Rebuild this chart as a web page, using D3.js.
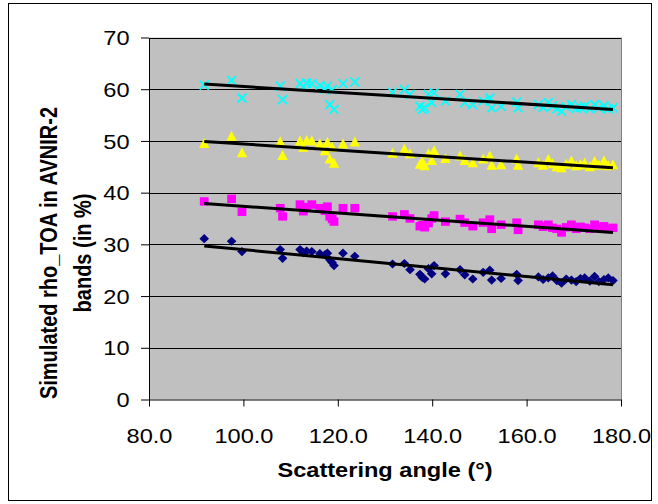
<!DOCTYPE html>
<html><head><meta charset="utf-8">
<script src="https://cdn.jsdelivr.net/npm/d3@7"></script>
<style>html,body{margin:0;padding:0;background:#fff;}svg{display:block;}</style>
</head><body>
<script>
// ---- data ----
const angles = [91.7, 97.5, 99.7, 107.8, 108.3,
  112.0, 112.7, 113.4, 114.5, 116.2, 117.3, 117.8, 118.3, 118.8, 119.2, 121.1, 123.6,
  131.6, 134.1, 135.3, 137.4, 137.9, 138.4, 139.2, 139.9, 140.4, 142.8, 145.9, 146.9, 148.6, 150.8, 152.2, 152.6, 154.6, 157.9, 158.2,
  162.5, 163.5, 164.6, 165.5, 166.4, 167.4, 168.4, 169.5, 170.5, 171.4, 172.3, 173.4, 174.4, 175.3, 176.4, 177.3, 178.3];
const bandNavy = [31.1, 30.6, 28.6, 29.0, 27.3,
  29.0, 28.4, 28.7, 28.6, 28.2, 28.0, 28.3, 27.0, 26.5, 25.9, 28.3, 27.7,
  26.2, 26.3, 25.1, 24.2, 23.6, 23.3, 25.3, 24.3, 25.9, 24.3, 25.1, 24.1, 23.3, 24.6, 25.0, 23.1, 23.4, 24.2, 23.0,
  23.7, 23.2, 23.5, 23.9, 23.0, 22.5, 23.3, 23.1, 22.8, 23.4, 23.5, 22.9, 23.8, 22.8, 23.2, 23.5, 23.0];
const bandMagenta = [38.3, 38.8, 36.3, 37.0, 35.4,
  37.7, 36.4, 37.2, 37.7, 37.0, 36.5, 37.3, 35.4, 34.9, 34.4, 37.0, 37.0,
  35.4, 35.8, 35.0, 33.5, 33.7, 33.3, 34.1, 35.0, 35.6, 34.4, 34.9, 34.2, 33.5, 34.2, 34.8, 33.0, 33.8, 34.2, 32.8,
  33.8, 33.4, 33.8, 33.2, 33.0, 32.3, 33.3, 33.8, 33.0, 33.4, 33.2, 33.0, 33.8, 33.2, 33.5, 33.0, 33.2];
const bandYellow = [49.5, 50.9, 47.7, 49.8, 47.2,
  50.0, 48.8, 50.1, 50.0, 49.4, 48.1, 49.7, 46.5, 48.8, 45.7, 49.4, 49.8,
  47.6, 48.4, 47.5, 45.5, 46.0, 45.2, 47.5, 46.2, 48.1, 46.6, 47.1, 46.2, 45.8, 46.5, 47.1, 45.3, 45.4, 46.5, 45.3,
  45.8, 45.3, 46.4, 45.6, 45.0, 44.8, 45.5, 46.1, 45.2, 45.4, 45.7, 45.0, 46.0, 45.3, 46.1, 45.2, 45.4];
const bandCyan = [60.8, 61.7, 58.3, 60.6, 58.0,
  61.1, 60.5, 61.2, 61.1, 60.7, 60.0, 60.6, 57.0, 59.9, 56.1, 61.1, 61.4,
  59.4, 59.9, 59.0, 56.7, 56.1, 56.4, 59.0, 57.4, 59.3, 57.7, 59.0, 57.4, 57.0, 57.7, 58.3, 56.4, 56.7, 57.5, 56.4,
  57.0, 56.5, 57.4, 56.8, 56.2, 55.7, 56.6, 57.0, 56.3, 56.5, 56.7, 56.2, 57.0, 56.4, 56.8, 56.2, 56.4];
// linear trend lines (start/end values at first/last angle)
const trendX = [91.7, 178.3];
const trendNavy = [29.7, 22.2];
const trendMagenta = [37.9, 32.3];
const trendYellow = [49.9, 44.8];
const trendCyan = [61.0, 56.1];
const yTicks = [0, 10, 20, 30, 40, 50, 60, 70];
const xTicks = [80, 100, 120, 140, 160, 180];
const xTitle = "Scattering angle (°)";
const yTitle = ["Simulated rho_TOA in AVNIR-2", "bands (in %)"];

// ---- drawing ----
const W = 658, H = 504, SX = 1.18;
const svg = d3.select("body").append("svg").attr("width", W).attr("height", H);
svg.append("rect").attr("x", 0).attr("y", 0).attr("width", W).attr("height", H).attr("fill", "#fff");
svg.append("rect").attr("x", 8.5).attr("y", 3.5).attr("width", 643).attr("height", 497)
  .attr("fill", "none").attr("stroke", "#000").attr("stroke-width", 1);

const x = d3.scaleLinear().domain([80, 180]).range([149, 621]);
const y = d3.scaleLinear().domain([0, 70]).range([399.5, 37.5]);

// plot area
svg.append("rect").attr("x", x(80)).attr("y", y(70)).attr("width", x(180) - x(80)).attr("height", y(0) - y(70))
  .attr("fill", "#C0C0C0");
svg.append("line").attr("x1", x(180) + 0.5).attr("x2", x(180) + 0.5).attr("y1", y(70)).attr("y2", y(0))
  .attr("stroke", "#808080").attr("stroke-width", 1);
// gridlines
svg.append("g").selectAll("line").data(yTicks.filter(d => d > 0)).join("line")
  .attr("x1", x(80)).attr("x2", x(180)).attr("y1", d => Math.round(y(d)) + 0.5).attr("y2", d => Math.round(y(d)) + 0.5)
  .attr("stroke", "#000").attr("stroke-width", 1);

// axes
const yAxis = svg.append("g").attr("transform", `translate(${x(80)},0)`)
  .call(d3.axisLeft(y).tickValues(yTicks).tickFormat(d3.format("d")).tickSizeInner(8).tickSizeOuter(0));
const xAxis = svg.append("g").attr("transform", `translate(0,${y(0)})`)
  .call(d3.axisBottom(x).tickValues(xTicks).tickFormat(d3.format(".1f")).tickSizeInner(7).tickSizeOuter(0));
[yAxis, xAxis].forEach(a => {
  a.select(".domain").attr("stroke", "#000").attr("stroke-width", 1);
  a.selectAll(".tick line").attr("stroke", "#000");
  a.selectAll("text").attr("font-family", "Liberation Sans, Arial, sans-serif").attr("font-size", 20).attr("fill", "#000");
});
yAxis.selectAll("text").attr("x", -19.5 / SX).attr("dy", "0.36em").attr("transform", `scale(${SX},1)`);
xAxis.selectAll("text").attr("y", 43.5).attr("dy", 0).attr("transform", `scale(${SX},1)`);

// titles
svg.append("text").attr("transform", `translate(${(x(80) + x(180)) / 2},477) scale(${SX},1)`)
  .attr("text-anchor", "middle").attr("font-family", "Liberation Sans, Arial, sans-serif")
  .attr("font-weight", "bold").attr("font-size", 20).text(xTitle);
const ytg = svg.append("g");
ytg.append("text").attr("transform", `translate(57,253) scale(${SX},1) rotate(-90)`)
  .attr("text-anchor", "middle").attr("font-family", "Liberation Sans, Arial, sans-serif")
  .attr("font-weight", "bold").attr("font-size", 20).text(yTitle[0]);
ytg.append("text").attr("transform", `translate(91,253) scale(${SX},1) rotate(-90)`)
  .attr("text-anchor", "middle").attr("font-family", "Liberation Sans, Arial, sans-serif")
  .attr("font-weight", "bold").attr("font-size", 20).text(yTitle[1]);

// series
const plot = svg.append("g");
function pts(vals) { return angles.map((a, i) => ({ a, v: vals[i] })); }
// navy diamonds
plot.append("g").selectAll("path").data(pts(bandNavy)).join("path")
  .attr("transform", d => `translate(${x(d.a)},${y(d.v)})`)
  .attr("d", "M0,-4.6L4.8,0L0,4.6L-4.8,0Z").attr("fill", "#000080");
// magenta squares
plot.append("g").selectAll("rect").data(pts(bandMagenta)).join("rect")
  .attr("x", d => x(d.a) - 4.4).attr("y", d => y(d.v) - 4.2).attr("width", 8.8).attr("height", 8.4)
  .attr("fill", "#FF00FF");
// yellow triangles
plot.append("g").selectAll("path").data(pts(bandYellow)).join("path")
  .attr("transform", d => `translate(${x(d.a)},${y(d.v)})`)
  .attr("d", "M0,-5.5L5.2,4.5L-5.2,4.5Z").attr("fill", "#FFFF00");
// cyan crosses
plot.append("g").selectAll("path").data(pts(bandCyan)).join("path")
  .attr("transform", d => `translate(${x(d.a)},${y(d.v)})`)
  .attr("d", "M-4.5,-4.5L4.5,4.5M-4.5,4.5L4.5,-4.5").attr("stroke", "#00FFFF").attr("stroke-width", 1.8).attr("fill", "none");

// trend lines
const line = d3.line().x(d => x(d[0])).y(d => y(d[1]));
[trendNavy, trendMagenta, trendYellow, trendCyan].forEach(t => {
  plot.append("path").attr("d", line(trendX.map((tx, i) => [tx, t[i]])))
    .attr("stroke", "#000").attr("stroke-width", 3).attr("fill", "none");
});
</script>
</body></html>
